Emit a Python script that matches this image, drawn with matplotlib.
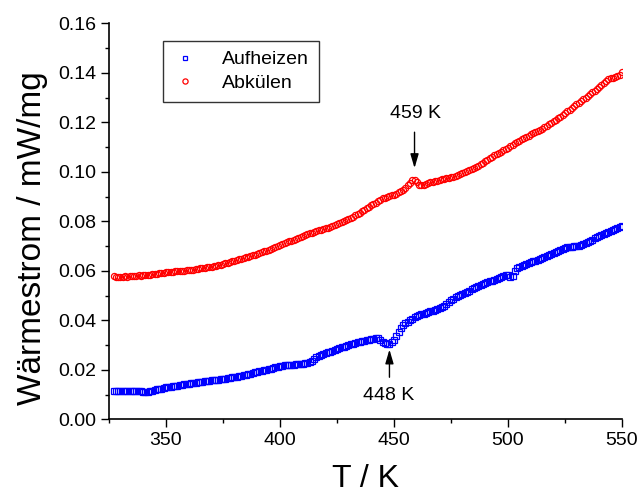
import matplotlib
matplotlib.use("Agg")
import matplotlib.pyplot as plt
from matplotlib.ticker import MultipleLocator
import numpy as np

plt.rcParams['font.family'] = ['Liberation Sans', 'DejaVu Sans']

# temperature grid (K), one point per kelvin
T = np.arange(327, 551)

# heating run (Aufheizen), mW/mg
heat = [
    .0114, .0114, .0114, .0114, .0115, .0115, .0115, .0116, .0116, .0116,
    .0116, .0115, .0114, .0111, .0110, .0111, .0113, .0115, .0117, .0121,
    .0124, .0122, .0126, .0130, .0132, .0132, .0133, .0135, .0136, .0138,
    .0139, .0141, .0142, .0144, .0145, .0146, .0148, .0149, .0150, .0152,
    .0153, .0155, .0156, .0157, .0158, .0159, .0160, .0161, .0162, .0164,
    .0166, .0167, .0169, .0170, .0172, .0174, .0177, .0178, .0181, .0184,
    .0184, .0188, .0191, .0193, .0195, .0197, .0199, .0201, .0203, .0205,
    .0208, .0210, .0212, .0214, .0216, .0218, .0219, .0220, .0221, .0221,
    .0222, .0223, .0224, .0225, .0227, .0229, .0231, .0234, .0245, .0253,
    .0256, .0259, .0262, .0266, .0270, .0274, .0278, .0281, .0285, .0288,
    .0291, .0294, .0297, .0300, .0303, .0306, .0309, .0311, .0314, .0316,
    .0318, .0320, .0322, .0324, .0325, .0327, .0328, .0322, .0313, .0307,
    .0305, .0305, .0312, .0322, .0335, .0352, .0368, .0380, .0388, .0395,
    .0401, .0407, .0413, .0418, .0421, .0424, .0427, .0430, .0433, .0436,
    .0439, .0442, .0445, .0448, .0452, .0458, .0466, .0474, .0481, .0488,
    .0494, .0499, .0504, .0508, .0512, .0516, .0520, .0525, .0530, .0535,
    .0540, .0544, .0548, .0551, .0554, .0557, .0560, .0563, .0567, .0571,
    .0575, .0580, .0585, .0582, .0575, .0578, .0600, .0610, .0617, .0620,
    .0624, .0627, .0631, .0634, .0638, .0641, .0644, .0647, .0650, .0654,
    .0658, .0662, .0666, .0671, .0676, .0681, .0686, .0690, .0693, .0695,
    .0697, .0698, .0699, .0700, .0702, .0704, .0707, .0711, .0716, .0721,
    .0726, .0731, .0736, .0740, .0744, .0748, .0752, .0756, .0760, .0765,
    .0769, .0773, .0777, .0781,
]

# cooling run (Abkülen), mW/mg
cool = [
    .0580, .0577, .0576, .0576, .0577, .0578, .0577, .0579, .0580, .0580,
    .0581, .0582, .0581, .0583, .0584, .0584, .0585, .0587, .0588, .0588,
    .0590, .0591, .0592, .0594, .0596, .0596, .0597, .0598, .0598, .0600,
    .0601, .0601, .0602, .0603, .0604, .0605, .0607, .0608, .0610, .0611,
    .0613, .0614, .0616, .0617, .0619, .0621, .0623, .0625, .0628, .0631,
    .0633, .0636, .0639, .0641, .0644, .0646, .0649, .0651, .0654, .0656,
    .0659, .0662, .0665, .0668, .0672, .0675, .0679, .0682, .0686, .0690,
    .0693, .0697, .0701, .0705, .0708, .0712, .0715, .0719, .0722, .0726,
    .0730, .0734, .0738, .0742, .0745, .0748, .0751, .0754, .0757, .0760,
    .0763, .0766, .0769, .0772, .0775, .0779, .0783, .0786, .0790, .0793,
    .0797, .0801, .0806, .0810, .0814, .0819, .0824, .0829, .0835, .0840,
    .0846, .0852, .0858, .0864, .0870, .0876, .0882, .0888, .0893, .0896,
    .0899, .0902, .0905, .0908, .0912, .0917, .0922, .0928, .0935, .0945,
    .0956, .0965, .0968, .0958, .0948, .0945, .0948, .0951, .0954, .0957,
    .0960, .0962, .0964, .0967, .0969, .0971, .0974, .0976, .0979, .0981,
    .0984, .0987, .0990, .0994, .0998, .1002, .1006, .1010, .1015, .1020,
    .1025, .1030, .1036, .1042, .1048, .1054, .1060, .1066, .1072, .1077,
    .1082, .1087, .1092, .1098, .1104, .1110, .1115, .1121, .1126, .1131,
    .1136, .1141, .1146, .1151, .1156, .1160, .1165, .1170, .1175, .1180,
    .1186, .1192, .1198, .1204, .1210, .1216, .1223, .1230, .1237, .1244,
    .1251, .1258, .1265, .1272, .1279, .1286, .1293, .1300, .1307, .1314,
    .1321, .1328, .1335, .1342, .1350, .1358, .1366, .1373, .1378, .1381,
    .1383, .1386, .1392, .1402,
]

fig = plt.figure(figsize=(6.39, 4.96), dpi=100)
ax = fig.add_axes([0.1706, 0.1546, 0.8028, 0.7984])

ax.plot(T, heat, ls='none', marker='s', ms=4.2, mew=0.9, mfc='none', mec='#0000ff', label='Aufheizen')
ax.plot(T, cool, ls='none', marker='o', ms=4.4, mew=0.9, mfc='none', mec='#ff0000', label='Abkülen')

ax.set_xlim(325, 550)
ax.set_ylim(0, 0.16)
ax.xaxis.set_major_locator(MultipleLocator(50))
ax.xaxis.set_minor_locator(MultipleLocator(25))
ax.yaxis.set_major_locator(MultipleLocator(0.02))
ax.yaxis.set_minor_locator(MultipleLocator(0.01))
ax.yaxis.set_major_formatter(matplotlib.ticker.FormatStrFormatter('%.2f'))

ax.spines['top'].set_visible(False)
ax.spines['right'].set_visible(False)
for s in ('left', 'bottom'):
    ax.spines[s].set_linewidth(1.2)
ax.tick_params(which='major', direction='out', length=5.5, width=1, labelsize=14)
ax.tick_params(which='minor', direction='out', length=3, width=1)

ax.set_xlabel('T / K', fontsize=23)
ax.set_ylabel('Wärmestrom / mW/mg', fontsize=24)
ax.xaxis.set_label_coords(0.5, -0.112)
ax.yaxis.set_label_coords(-0.118, 0.458)

arrow = dict(arrowstyle='-|>,head_length=0.85,head_width=0.25', color='black', lw=1,
             shrinkA=0, shrinkB=0)
ax.annotate('', xy=(459, 0.1015), xytext=(459, 0.1160), arrowprops=arrow)
ax.text(459.5, 0.1235, '459 K', ha='center', va='center', fontsize=14)
ax.annotate('', xy=(448, 0.0282), xytext=(448, 0.0170), arrowprops=arrow)
ax.text(447.7, 0.0098, '448 K', ha='center', va='center', fontsize=14)

leg = ax.legend(loc='upper left', bbox_to_anchor=(0.105, 0.955), borderaxespad=0,
                fontsize=14, frameon=True, fancybox=False, edgecolor='black',
                handlelength=1.3, handletextpad=1.25, borderpad=0.5,
                labelspacing=0.3, markerscale=0.85)
leg.get_frame().set_linewidth(1)

fig.savefig('out.png', dpi=100)
